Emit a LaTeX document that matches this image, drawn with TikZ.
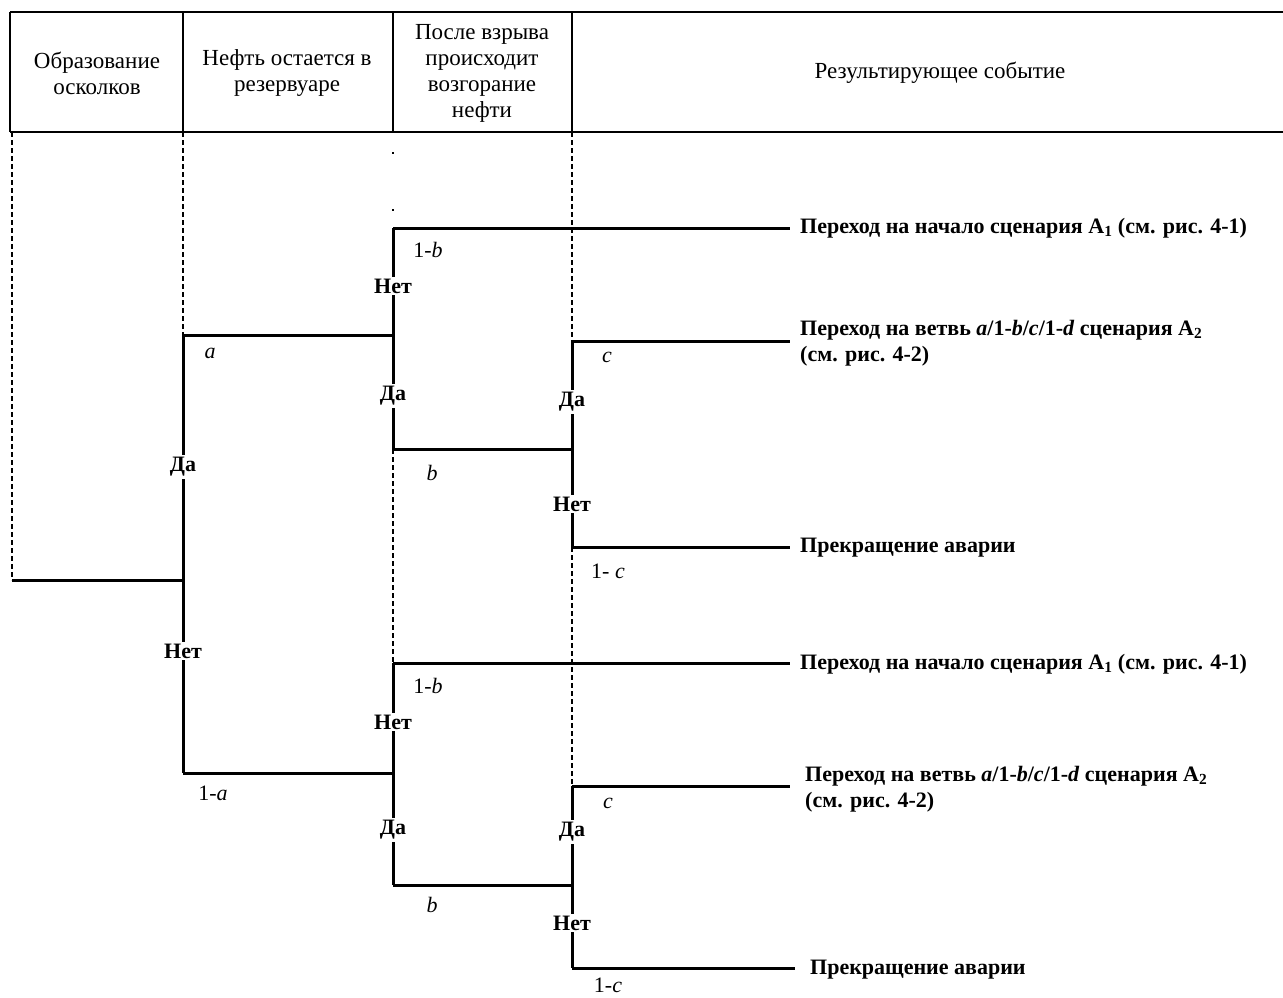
\documentclass[tikz,border=0pt]{standalone}
\usepackage{fontspec}
\setmainfont{Liberation Serif}
\begin{document}
\begin{tikzpicture}[x=1pt,y=-1pt,
  tree/.style={line width=3pt},
  guide/.style={line width=1.2pt,dash pattern=on 5pt off 3pt},
  sparse/.style={line width=1.2pt,dash pattern=on 2pt off 55pt},
  hdr/.style={line width=2pt},
  hdrtext/.style={font=\fontsize{23}{26}\selectfont,align=center,inner sep=0pt},
  yn/.style={font=\fontsize{22}{24}\selectfont\bfseries,fill=white,inner sep=2pt},
  prob/.style={font=\fontsize{22}{24}\selectfont,inner sep=0pt},
  res/.style={font=\fontsize{22}{26}\selectfont\bfseries,anchor=west,align=left,inner sep=0pt}]
\useasboundingbox (0,0) rectangle (1283,998);

% header
\draw[hdr] (10,12) -- (1283,12);
\draw[hdr] (10,132) -- (1283,132);
\foreach \x in {10,183,393,572} \draw[hdr] (\x,12) -- (\x,132);
\node[hdrtext] (h1) at (97,73) {Образование\\осколков};
\node[hdrtext] (h2) at (287,73) {Нефть остается в\\резервуаре};
\node[hdrtext] (h3) at (482,73) {После взрыва\\происходит\\возгорание\\нефти};
\node[hdrtext] (h4) at (940,73) {Результирующее событие};

% tree points
\coordinate (R) at (12,580);
\coordinate (A) at (183,580);
\coordinate (Ay) at (183,335);
\coordinate (An) at (183,773);
\coordinate (B1) at (393,335);
\coordinate (B1n) at (393,228);
\coordinate (B1y) at (393,449);
\coordinate (C1) at (572,449);
\coordinate (C1y) at (572,341);
\coordinate (C1n) at (572,547);
\coordinate (B2) at (393,773);
\coordinate (B2n) at (393,663);
\coordinate (B2y) at (393,885);
\coordinate (C2) at (572,885);
\coordinate (C2y) at (572,786);
\coordinate (C2n) at (572,968);
\coordinate (E1) at (790,228);
\coordinate (E2) at (790,341);
\coordinate (E3) at (790,547);
\coordinate (E4) at (790,663);
\coordinate (E5) at (790,786);
\coordinate (E6) at (795,968);

% guides
\draw[guide] (12,132) -- (R);
\draw[guide] (183,132) -- (Ay);
\draw[sparse] (393,152) -- (B1n);
\draw[guide] (572,132) -- (C1y);
\draw[guide] (B1y) -- (B2n);
\draw[guide] (C1n) -- (C2y);

% tree lines
\draw[tree] (R) -- (A);
\draw[tree] (Ay) -- (An);
\draw[tree] (Ay) -- (B1);
\draw[tree] (B1n) -- (B1y);
\draw[tree] (B1n) -- (E1);
\draw[tree] (B1y) -- (C1);
\draw[tree] (C1y) -- (C1n);
\draw[tree] (C1y) -- (E2);
\draw[tree] (C1n) -- (E3);
\draw[tree] (An) -- (B2);
\draw[tree] (B2n) -- (B2y);
\draw[tree] (B2n) -- (E4);
\draw[tree] (B2y) -- (C2);
\draw[tree] (C2y) -- (C2n);
\draw[tree] (C2y) -- (E5);
\draw[tree] (C2n) -- (E6);

% yes/no labels
\node[yn] (y1) at (183,467) {Да};
\node[yn] (n1) at (183,651) {Нет};
\node[yn] (n2) at (393,286) {Нет};
\node[yn] (y2) at (393,396) {Да};
\node[yn] (y3) at (572,402) {Да};
\node[yn] (n3) at (572,504) {Нет};
\node[yn] (n4) at (393,722) {Нет};
\node[yn] (y4) at (393,830) {Да};
\node[yn] (y5) at (572,832) {Да};
\node[yn] (n5) at (572,923) {Нет};

% probabilities
\node[prob] (pa) at (210,353) {\textit{a}};
\node[prob] (pb1) at (428,250) {1-\textit{b}};
\node[prob] (pb) at (432,473) {\textit{b}};
\node[prob] (pc) at (607,357) {\textit{c}};
\node[prob] (pc1) at (608,571) {1- \textit{c}};
\node[prob] (pa2) at (213,793) {1-\textit{a}};
\node[prob] (pb12) at (428,686) {1-\textit{b}};
\node[prob] (pb2) at (432,905) {\textit{b}};
\node[prob] (pc2) at (608,803) {\textit{c}};
\node[prob] (pc12) at (608,985) {1-\textit{c}};

% results
\node[res] (r1) at (800,228) {Переход на начало сценария А\textsubscript{1} (см. рис. 4-1)};
\node[res] (r2) at (800,343) {Переход на ветвь \textit{a}/1-\textit{b}/\textit{c}/1-\textit{d} сценария А\textsubscript{2}\\(см. рис. 4-2)};
\node[res] (r3) at (800,548) {Прекращение аварии};
\node[res] (r4) at (800,664) {Переход на начало сценария А\textsubscript{1} (см. рис. 4-1)};
\node[res] (r5) at (805,789) {Переход на ветвь \textit{a}/1-\textit{b}/\textit{c}/1-\textit{d} сценария А\textsubscript{2}\\(см. рис. 4-2)};
\node[res] (r6) at (810,970) {Прекращение аварии};
\end{tikzpicture}
\end{document}
